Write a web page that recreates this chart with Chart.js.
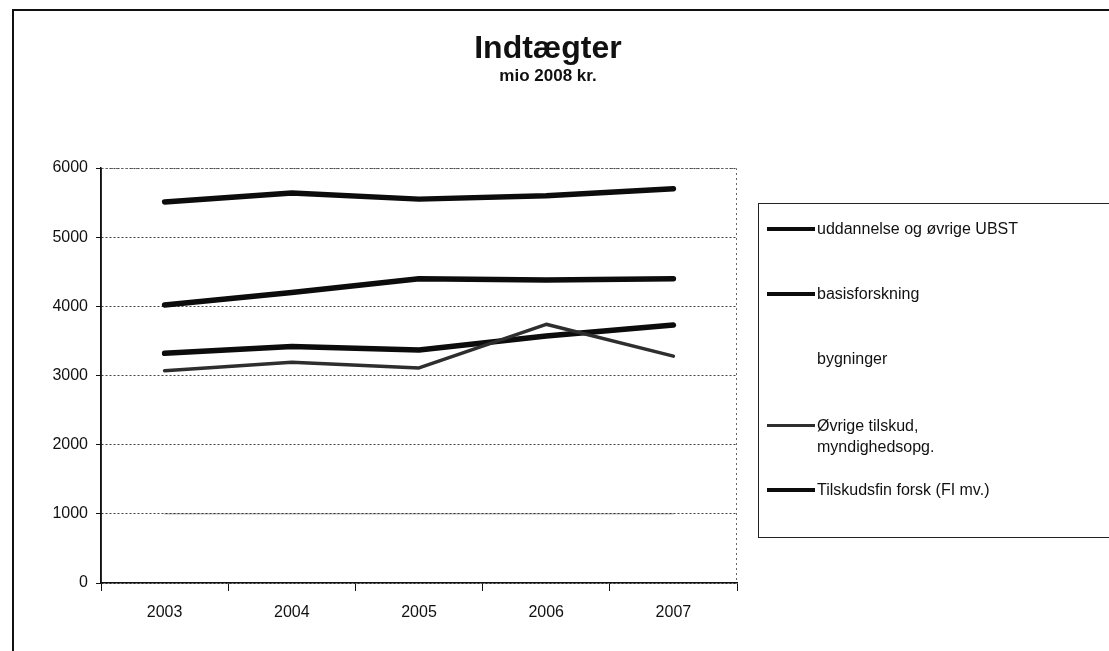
<!DOCTYPE html>
<html>
<head>
<meta charset="utf-8">
<script src="https://cdn.jsdelivr.net/npm/chart.js@4.4.1/dist/chart.umd.min.js"></script>
<style>
    html, body { margin: 0; padding: 0; background: #fff; }
    body { width: 1109px; height: 651px; position: relative; overflow: hidden; font-family: "Liberation Sans", Arial, sans-serif; }
    #frame { position: absolute; left: 12px; top: 9px; width: 1200px; height: 800px; border: 2px solid #111; }
    #wrap { position: absolute; left: 0; top: 0; width: 1109px; height: 651px; }
    #title { position: absolute; left: 348px; width: 400px; top: 29px; text-align: center; font-weight: bold; font-size: 32px; line-height: 36px; color: #111; }
    #subtitle { position: absolute; left: 348px; width: 400px; top: 66px; text-align: center; font-weight: bold; font-size: 17px; line-height: 20px; color: #111; }
    #legend { position: absolute; left: 758px; top: 203px; width: 400px; height: 333px; border: 1px solid #222; }
    .item { position: absolute; left: 0; font-size: 16px; color: #111; line-height: 21px; }
    .swatch { position: absolute; left: 8px; width: 48px; }
    .text { position: absolute; left: 58px; white-space: nowrap; }
</style>
</head>
<body>
<div id="frame"></div>
<div id="wrap"><canvas id="chart" width="1109" height="651"></canvas></div>
<div id="title">Indtægter</div>
<div id="subtitle">mio 2008 kr.</div>
<div id="legend"></div>
<script>
// data
const years = ["2003", "2004", "2005", "2006", "2007"];
const seriesNames = [
    "uddannelse og øvrige UBST",
    "basisforskning",
    "bygninger",
    ["Øvrige tilskud,", "myndighedsopg."],
    "Tilskudsfin forsk (FI mv.)"
];
const uddannelse = [5510, 5640, 5550, 5600, 5700];
const basisforskning = [4020, 4200, 4400, 4380, 4400];
const bygninger = [1000, 1000, 1000, 1000, 1000];
const ovrigeTilskud = [3070, 3190, 3110, 3740, 3280];
const tilskudsfin = [3320, 3420, 3370, 3570, 3730];
const yTicks = [0, 1000, 2000, 3000, 4000, 5000, 6000];

const colors = ["#0c0c0c", "#0c0c0c", "rgba(0,0,0,0.25)", "#2e2e2e", "#0c0c0c"];
const widths = [5.5, 5.5, 1.5, 3.5, 5.5];
const allValues = [uddannelse, basisforskning, bygninger, ovrigeTilskud, tilskudsfin];

const datasets = allValues.map((vals, i) => ({
    label: Array.isArray(seriesNames[i]) ? seriesNames[i].join(" ") : seriesNames[i],
    data: vals,
    borderColor: colors[i],
    backgroundColor: colors[i],
    borderWidth: widths[i],
    pointRadius: 0,
    tension: 0,
    borderCapStyle: "round",
    borderJoinStyle: "round"
}));

// dotted frame around the plot area, solid value axis on the left
const plotFrame = {
    id: "plotFrame",
    beforeDatasetsDraw(chart) {
        const a = chart.chartArea;
        const ctx = chart.ctx;
        ctx.save();
        ctx.strokeStyle = "#666";
        ctx.lineWidth = 1;
        ctx.setLineDash([2, 3]);
        ctx.beginPath();
        ctx.moveTo(a.left, a.top + 0.5);
        ctx.lineTo(a.right - 0.5, a.top + 0.5);
        ctx.lineTo(a.right - 0.5, a.bottom);
        ctx.stroke();
        ctx.setLineDash([]);
        ctx.strokeStyle = "#111";
        ctx.lineWidth = 1.5;
        ctx.beginPath();
        ctx.moveTo(a.left, a.top);
        ctx.lineTo(a.left, a.bottom);
        ctx.stroke();
        ctx.restore();
    }
};

Chart.defaults.font.family = "'Liberation Sans', Arial, sans-serif";
Chart.defaults.color = "#111";

new Chart(document.getElementById("chart"), {
    type: "line",
    data: { labels: years, datasets: datasets },
    plugins: [plotFrame],
    options: {
        responsive: false,
        animation: false,
        layout: { padding: { left: 30, right: 372, top: 168, bottom: 0 } },
        plugins: {
            legend: { display: false },
            tooltip: { enabled: false }
        },
        scales: {
            x: {
                offset: true,
                grid: {
                    offset: true,
                    drawOnChartArea: false,
                    drawTicks: true,
                    tickLength: 8,
                    color: "#111"
                },
                border: { color: "#111", width: 1.5 },
                ticks: { font: { size: 16 }, color: "#111", padding: 12 },
                afterFit(scale) { scale.height = 68; }
            },
            y: {
                min: 0,
                max: 6000,
                afterBuildTicks(scale) { scale.ticks = yTicks.map(v => ({ value: v })); },
                grid: {
                    color: "#444",
                    lineWidth: 1,
                    tickLength: 5,
                    tickColor: "#111",
                    drawTicks: true
                },
                border: { color: "#111", width: 1.5, dash: [2, 2] },
                ticks: {
                    font: { size: 16 },
                    color: "#111",
                    padding: 8,
                    callback: v => String(v)
                },
                afterFit(scale) { scale.width = 71; }
            }
        }
    }
});

// legend box built from the same series
const legend = document.getElementById("legend");
const rowTops = [14, 79, 144, 211, 275];
seriesNames.forEach((name, i) => {
    const item = document.createElement("div");
    item.className = "item";
    item.style.top = rowTops[i] + "px";
    if (i !== 2) {
        const h = Math.min(Math.round(widths[i]) - 1, 4);
        const sw = document.createElement("div");
        sw.className = "swatch";
        sw.style.top = (11 - Math.round(h / 2)) + "px";
        sw.style.height = h + "px";
        sw.style.background = colors[i];
        item.appendChild(sw);
    }
    const t = document.createElement("div");
    t.className = "text";
    t.innerHTML = Array.isArray(name) ? name.join("<br>") : name;
    item.appendChild(t);
    legend.appendChild(item);
});
</script>
</body>
</html>
